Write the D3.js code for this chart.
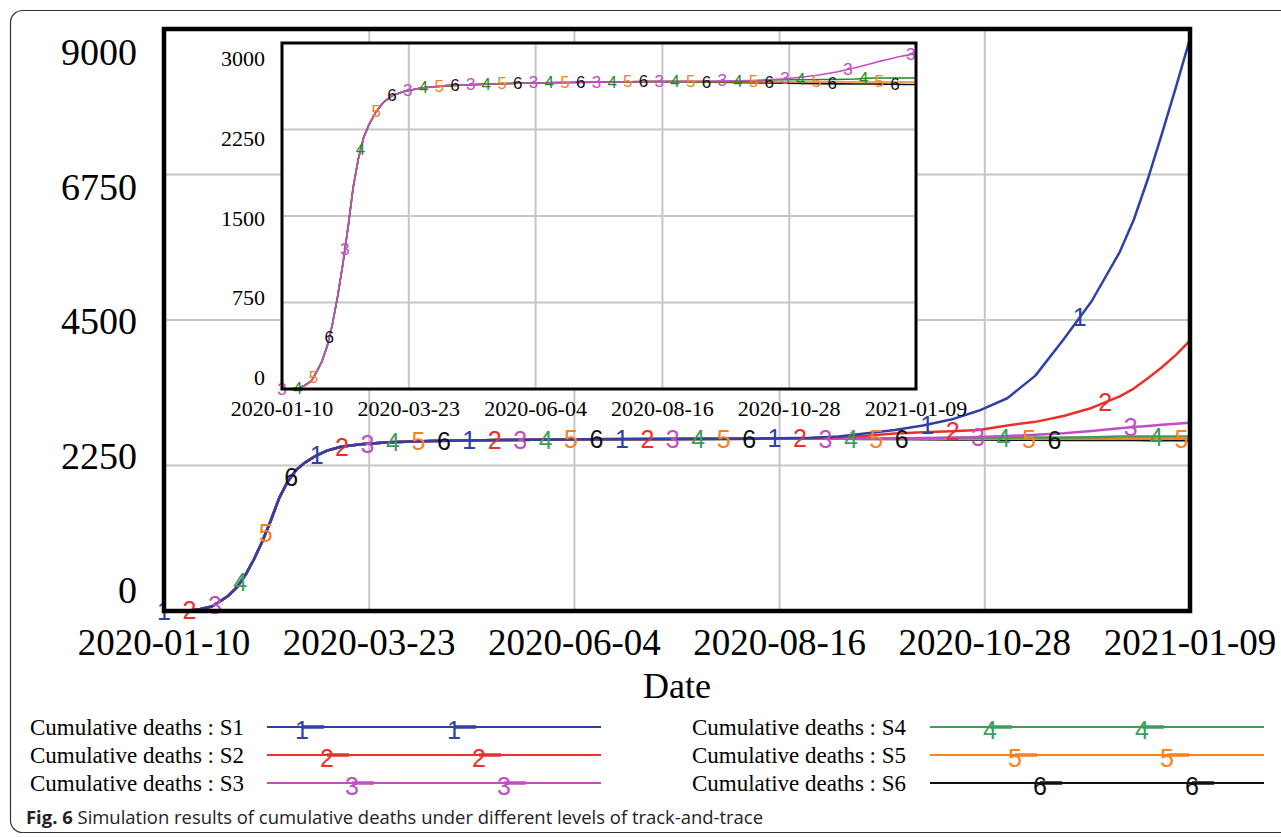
<!DOCTYPE html>
<html lang="en">
<head>
<meta charset="UTF-8">
<title>Cumulative deaths</title>
<script src="https://cdn.jsdelivr.net/npm/d3@7"></script>
<style>
  body { margin: 0; background: #fff; }
  svg { display: block; }
  .serif { font-family: "Liberation Serif", "Times New Roman", serif; fill: #000; }
  .mark { font-family: "Liberation Sans", Arial, sans-serif; }
  .grid { stroke: #c6c6c6; stroke-width: 2; }
</style>
</head>
<body>
<svg width="1281" height="837"></svg>
<script>
// ---- data ----
const xTickLabels = ["2020-01-10", "2020-03-23", "2020-06-04", "2020-08-16", "2020-10-28", "2021-01-09"];
const mainYTicks = [0, 2250, 4500, 6750, 9000];
const insetYTicks = [0, 750, 1500, 2250, 3000];
const seriesNames = ["S1", "S2", "S3", "S4", "S5", "S6"];
const colors = ["#2e42a6", "#e8312b", "#c24ec4", "#3d9e5a", "#f5821f", "#111111"];
const insetColors = ["#2e42a6", "#e8312b", "#c24ec4", "#1f8c1f", "#f5821f", "#111111"];

// days since 2020-01-10
const days = [0, 5, 10, 13, 17, 20, 23, 26, 29, 32, 35, 38, 41, 44, 47, 50, 54, 58, 63, 70, 80, 95,
  120, 150, 180, 210, 230, 240, 250, 260, 270, 280, 290, 300, 310, 320, 330, 340, 345, 350, 355, 360, 365];

const s1 = [0, 0, 10, 30, 70, 150, 240, 370, 560, 800, 1080, 1400, 1750, 2000, 2180, 2290, 2400, 2480, 2540, 2580, 2610, 2630,
  2645, 2655, 2660, 2665, 2680, 2700, 2750, 2800, 2870, 2960, 3100, 3290, 3640, 4200, 4790, 5550, 6050, 6680, 7380, 8100, 8850];
const s2 = [0, 0, 10, 30, 70, 150, 240, 370, 560, 800, 1080, 1400, 1750, 2000, 2180, 2290, 2400, 2480, 2540, 2580, 2610, 2630,
  2645, 2655, 2660, 2665, 2670, 2690, 2710, 2745, 2765, 2780, 2800, 2870, 2925, 3015, 3140, 3320, 3440, 3600, 3770, 3960, 4180];
const s3 = [0, 0, 10, 30, 70, 150, 240, 370, 560, 800, 1080, 1400, 1750, 2000, 2180, 2290, 2400, 2480, 2540, 2580, 2610, 2630,
  2645, 2655, 2660, 2665, 2665, 2668, 2670, 2672, 2675, 2680, 2690, 2705, 2725, 2750, 2785, 2825, 2845, 2862, 2880, 2895, 2910];
const s4 = [0, 0, 10, 30, 70, 150, 240, 370, 560, 800, 1080, 1400, 1750, 2000, 2180, 2290, 2400, 2480, 2540, 2580, 2610, 2630,
  2645, 2655, 2660, 2665, 2665, 2665, 2665, 2665, 2668, 2680, 2681, 2682, 2683, 2684, 2688, 2697, 2697, 2697, 2697, 2697, 2697];
const s5 = [0, 0, 10, 30, 70, 150, 240, 370, 560, 800, 1080, 1400, 1750, 2000, 2180, 2290, 2400, 2480, 2540, 2580, 2610, 2630,
  2645, 2655, 2660, 2665, 2665, 2665, 2664, 2664, 2663, 2663, 2662, 2662, 2662, 2662, 2662, 2662, 2662, 2662, 2662, 2662, 2662];
const s6 = [0, 0, 10, 30, 70, 150, 240, 370, 560, 800, 1080, 1400, 1750, 2000, 2180, 2290, 2400, 2480, 2540, 2580, 2610, 2630,
  2645, 2655, 2660, 2665, 2665, 2663, 2660, 2658, 2656, 2654, 2652, 2650, 2648, 2646, 2645, 2644, 2643, 2642, 2641, 2640, 2640];
const allSeries = [s1, s2, s3, s4, s5, s6];

const markerStep = 9.05; // days between successive number markers
const markerCount = 41;

// ---- helpers ----
const parse = d3.timeParse("%Y-%m-%d");
const t0 = parse(xTickLabels[0]);
const dayToDate = d => t0.getTime() + d * 864e5;
const tickDates = xTickLabels.map(parse);

function valueAt(vals, day) {
  const i = Math.min(Math.max(d3.bisectRight(days, day), 1), days.length - 1);
  const t = (day - days[i - 1]) / (days[i] - days[i - 1]);
  return vals[i - 1] + Math.min(Math.max(t, 0), 1) * (vals[i] - vals[i - 1]);
}

const svg = d3.select("svg");

// outer frame of the figure
svg.append("rect")
  .attr("x", 10.5).attr("y", 10.5).attr("width", 1300).attr("height", 822).attr("rx", 12)
  .attr("fill", "none").attr("stroke", "#333").attr("stroke-width", 1.2);

// ---- main chart ----
const x = d3.scaleTime().domain([t0, tickDates[5]]).range([164, 1190]);
const y = d3.scaleLinear().domain([0, 9000]).range([611, 29]);
const yLab = d3.scaleLinear().domain([0, 9000]).range([603, 65]);

const main = svg.append("g");
main.selectAll(".vg").data(tickDates.slice(1, -1)).join("line").attr("class", "grid")
  .attr("x1", d => x(d)).attr("x2", d => x(d)).attr("y1", y(0)).attr("y2", y(9000));
main.selectAll(".hg").data(mainYTicks.slice(1, -1)).join("line").attr("class", "grid")
  .attr("x1", x.range()[0]).attr("x2", x.range()[1]).attr("y1", d => y(d)).attr("y2", d => y(d));

const line = d3.line().x((d, i) => x(dayToDate(days[i]))).y(d => y(d));
main.selectAll(".ml").data(allSeries.map((v, i) => ({ v, i })).reverse()).join("path")
  .attr("d", d => line(d.v)).attr("fill", "none")
  .attr("stroke", d => colors[d.i]).attr("stroke-width", 2.5).attr("stroke-linejoin", "round");

const mainMarks = d3.range(markerCount).map(k => ({ k, s: k % 6, day: k * markerStep }));
main.selectAll(".mm").data(mainMarks).join("text").attr("class", "mark")
  .attr("x", d => x(dayToDate(d.day))).attr("y", d => y(valueAt(allSeries[d.s], d.day)))
  .attr("text-anchor", "middle").attr("dominant-baseline", "central")
  .attr("font-size", 25).attr("fill", d => colors[d.s]).text(d => d.s + 1);

main.append("rect").attr("x", 164).attr("y", 29).attr("width", 1026).attr("height", 582)
  .attr("fill", "none").attr("stroke", "#000").attr("stroke-width", 4.5);

main.selectAll(".yl").data(mainYTicks).join("text").attr("class", "serif")
  .attr("x", 137).attr("y", d => yLab(d)).attr("text-anchor", "end").attr("font-size", 38).text(d => d);
main.selectAll(".xl").data(tickDates).join("text").attr("class", "serif")
  .attr("x", d => x(d)).attr("y", 655).attr("text-anchor", "middle").attr("font-size", 37)
  .text((d, i) => xTickLabels[i]);
main.append("text").attr("class", "serif").attr("x", 677).attr("y", 698)
  .attr("text-anchor", "middle").attr("font-size", 36).text("Date");

// ---- inset chart ----
const xi = d3.scaleTime().domain([t0, tickDates[5]]).range([282, 916]);
const yi = d3.scaleLinear().domain([0, 3000]).range([389, 43]);
const yiLab = d3.scaleLinear().domain([0, 3000]).range([385, 66]);

const inset = svg.append("g");
inset.append("rect").attr("x", 282).attr("y", 43).attr("width", 634).attr("height", 346).attr("fill", "#fff");
inset.selectAll(".vg").data(tickDates.slice(1, -1)).join("line").attr("class", "grid").attr("stroke-width", 1.6)
  .attr("x1", d => xi(d)).attr("x2", d => xi(d)).attr("y1", yi(0)).attr("y2", yi(3000));
inset.selectAll(".hg").data(insetYTicks.slice(1, -1)).join("line").attr("class", "grid").attr("stroke-width", 1.6)
  .attr("x1", xi.range()[0]).attr("x2", xi.range()[1]).attr("y1", d => yi(d)).attr("y2", d => yi(d));

const iline = d3.line().x((d, i) => xi(dayToDate(days[i]))).y(d => yi(d));
inset.selectAll(".il").data(allSeries.slice(2).map((v, i) => ({ v, i: i + 2 })).reverse()).join("path")
  .attr("d", d => iline(d.v)).attr("fill", "none")
  .attr("stroke", d => insetColors[d.i]).attr("stroke-width", 1.6);

const insetMarks = d3.range(markerCount).map(k => ({ k, s: 2 + (k % 4), day: k * markerStep }));
inset.selectAll(".im").data(insetMarks).join("text").attr("class", "mark")
  .attr("x", d => xi(dayToDate(d.day))).attr("y", d => yi(valueAt(allSeries[d.s], d.day)))
  .attr("text-anchor", "middle").attr("dominant-baseline", "central")
  .attr("font-size", 17).attr("fill", d => insetColors[d.s]).text(d => d.s + 1);

inset.append("rect").attr("x", 282).attr("y", 43).attr("width", 634).attr("height", 346)
  .attr("fill", "none").attr("stroke", "#000").attr("stroke-width", 3);
inset.selectAll(".yl").data(insetYTicks).join("text").attr("class", "serif")
  .attr("x", 265).attr("y", d => yiLab(d)).attr("text-anchor", "end").attr("font-size", 22).text(d => d);
inset.selectAll(".xl").data(tickDates).join("text").attr("class", "serif")
  .attr("x", d => xi(d)).attr("y", 416).attr("text-anchor", "middle").attr("font-size", 22)
  .text((d, i) => xTickLabels[i]);

// ---- legend ----
const legendRows = [727, 755, 783];
const legend = svg.append("g");
seriesNames.forEach((name, i) => {
  const col = Math.floor(i / 3), ry = legendRows[i % 3];
  const lx = col ? 692 : 30, x1 = col ? 930 : 267, x2 = col ? 1264 : 601;
  const first = col ? 990 : 302, gap = 152, shift = (i % 3) * 25;
  const g = legend.append("g");
  g.append("text").attr("class", "serif").attr("x", lx).attr("y", ry + 8).attr("font-size", 23)
    .text("Cumulative deaths : " + name);
  g.append("line").attr("x1", x1).attr("x2", x2).attr("y1", ry).attr("y2", ry)
    .attr("stroke", colors[i]).attr("stroke-width", 2.2);
  [0, 1].forEach(j => {
    const mx = first + shift + j * gap;
    g.append("line").attr("x1", mx).attr("x2", mx + 22).attr("y1", ry).attr("y2", ry)
      .attr("stroke", colors[i]).attr("stroke-width", 3.5);
    g.append("text").attr("class", "mark").attr("x", mx).attr("y", ry + 3)
      .attr("text-anchor", "middle").attr("dominant-baseline", "central")
      .attr("font-size", 25).attr("fill", colors[i]).text(i + 1);
  });
});

// ---- caption ----
const cap = svg.append("text").attr("x", 26).attr("y", 824)
  .attr("font-family", "'Open Sans', 'Noto Sans', sans-serif").attr("font-size", 17.5).attr("fill", "#222");
cap.append("tspan").attr("font-weight", "bold").text("Fig. 6");
cap.append("tspan").text(" Simulation results of cumulative deaths under different levels of track-and-trace");
cap.attr("textLength", 737).attr("lengthAdjust", "spacingAndGlyphs");
</script>
</body>
</html>
